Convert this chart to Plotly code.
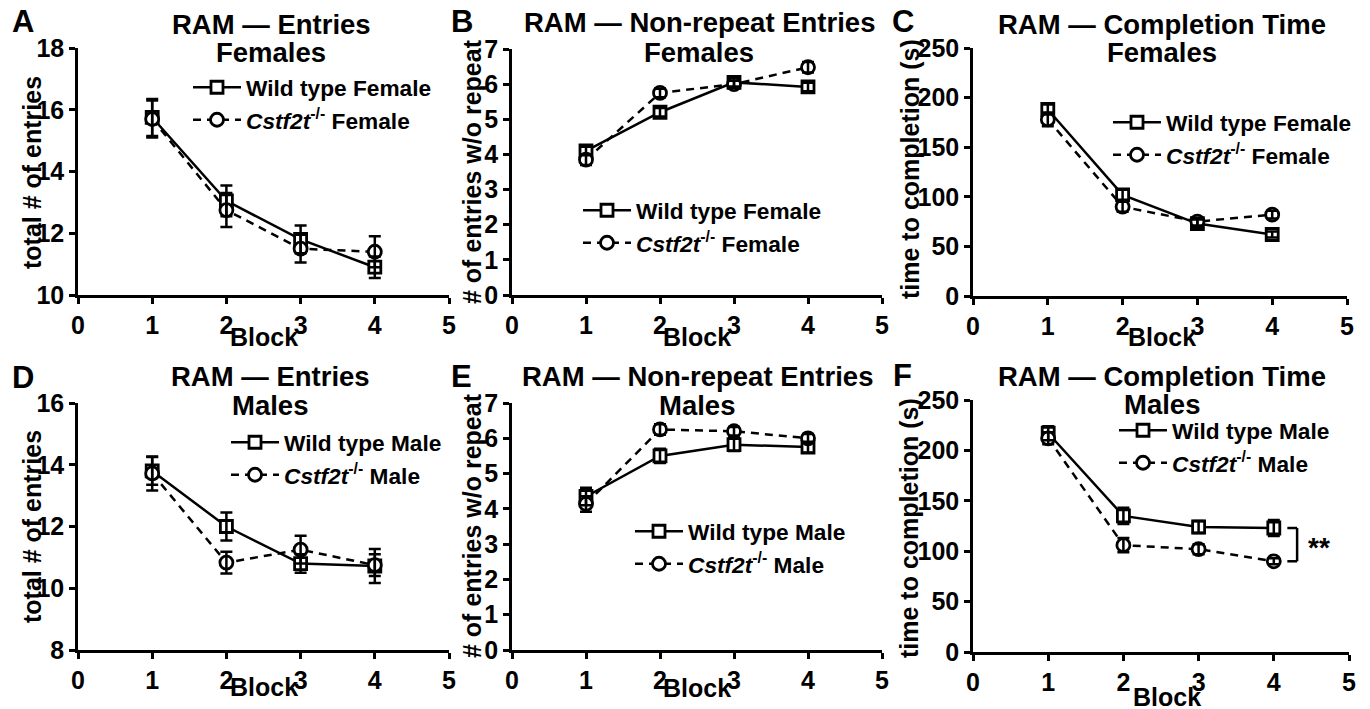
import plotly.graph_objects as go

W, H = 1370, 709

blocks = [1, 2, 3, 4]

# Panel A - Females, total entries
wt_f_entries = [15.75, 13.05, 11.8, 10.9]
wt_f_entries_sem = [0.6, 0.5, 0.45, 0.35]
ko_f_entries = [15.7, 12.75, 11.5, 11.4]
ko_f_entries_sem = [0.6, 0.55, 0.45, 0.5]

# Panel B - Females, non-repeat entries
wt_f_nonrep = [4.1, 5.2, 6.05, 5.92]
wt_f_nonrep_sem = [0.12, 0.12, 0.12, 0.12]
ko_f_nonrep = [3.85, 5.75, 6.0, 6.48]
ko_f_nonrep_sem = [0.15, 0.12, 0.1, 0.15]

# Panel C - Females, completion time
wt_f_time = [188, 102, 73, 62]
wt_f_time_sem = [5, 5, 4, 3]
ko_f_time = [178, 90, 75, 82]
ko_f_time_sem = [7, 5, 4, 4]

# Panel D - Males, total entries
wt_m_entries = [13.8, 12.0, 10.8, 10.72]
wt_m_entries_sem = [0.45, 0.45, 0.3, 0.55]
ko_m_entries = [13.72, 10.83, 11.25, 10.75]
ko_m_entries_sem = [0.55, 0.35, 0.45, 0.35]

# Panel E - Males, non-repeat entries
wt_m_nonrep = [4.35, 5.5, 5.82, 5.75]
wt_m_nonrep_sem = [0.25, 0.2, 0.18, 0.15]
ko_m_nonrep = [4.14, 6.25, 6.2, 6.0]
ko_m_nonrep_sem = [0.22, 0.15, 0.12, 0.12]

# Panel F - Males, completion time
wt_m_time = [217, 135, 124, 123]
wt_m_time_sem = [7, 8, 6, 8]
ko_m_time = [212, 106, 102, 90]
ko_m_time_sem = [6, 7, 5, 3]

panel_letters = ["A", "B", "C", "D", "E", "F"]
title_line1 = ["RAM \u2014 Entries", "RAM \u2014 Non-repeat Entries", "RAM \u2014 Completion Time"] * 2
title_line2 = ["Females"] * 3 + ["Males"] * 3
y_titles = ["total # of entries", "# of entries w/o repeat", "time to completion (s)"] * 2
x_title = "Block"
wt_names = ["Wild type Female"] * 3 + ["Wild type Male"] * 3
ko_names = ["<i>Cstf2t</i><sup>-/-</sup> Female"] * 3 + ["<i>Cstf2t</i><sup>-/-</sup> Male"] * 3
y_ranges = [[10, 18], [0, 7], [0, 250], [8, 16], [0, 7], [0, 250]]
y_dticks = [2, 1, 50, 2, 1, 50]

wt_data = [(wt_f_entries, wt_f_entries_sem), (wt_f_nonrep, wt_f_nonrep_sem), (wt_f_time, wt_f_time_sem),
           (wt_m_entries, wt_m_entries_sem), (wt_m_nonrep, wt_m_nonrep_sem), (wt_m_time, wt_m_time_sem)]
ko_data = [(ko_f_entries, ko_f_entries_sem), (ko_f_nonrep, ko_f_nonrep_sem), (ko_f_time, ko_f_time_sem),
           (ko_m_entries, ko_m_entries_sem), (ko_m_nonrep, ko_m_nonrep_sem), (ko_m_time, ko_m_time_sem)]

FONT = "Liberation Sans, Arial, sans-serif"


def px_x(x):
    return x / W


def px_y(y):
    return 1 - y / H


# plot-area pixel boxes (left, right, top, bottom)
boxes = [(78, 449, 48, 295), (512, 882, 49, 295), (973, 1347, 48, 296),
         (78, 449, 403, 650), (512, 882, 403, 650), (973, 1349, 400, 652)]
legend_pos = [(188, 66), (578, 189), (1108, 101), (226, 421), (630, 510), (1114, 409)]
letter_pos = [(23, 22), (462, 22), (903, 22), (23, 378), (461, 377), (902, 376)]
title_x = [271, 699, 1162, 270, 697, 1162]
title_y1 = [25, 23, 25, 377, 377, 377]
title_y2 = [52, 52, 52, 405, 405, 404]
ytitle_pos = [(32, 173), (472, 172), (910, 169), (32, 527), (472, 526), (909, 528)]
xtitle_pos = [(264, 337), (697, 337), (1162, 337), (264, 687), (697, 688), (1167, 697)]

fig = go.Figure()
annotations = []
layout = dict()

for i in range(6):
    n = "" if i == 0 else str(i + 1)
    xa, ya = "x" + n, "y" + n
    leg = "legend" + n
    wt, wt_sem = wt_data[i]
    ko, ko_sem = ko_data[i]

    fig.add_trace(go.Scatter(
        x=blocks, y=wt, name=wt_names[i], mode="lines+markers", xaxis=xa, yaxis=ya, legend=leg,
        line=dict(color="black", width=2.5),
        marker=dict(symbol="square", size=12, color="white", line=dict(color="black", width=2.8)),
    ))
    fig.add_trace(go.Scatter(
        x=blocks, y=ko, name=ko_names[i], mode="lines+markers", xaxis=xa, yaxis=ya, legend=leg,
        line=dict(color="black", width=2.5, dash="8px,6px"),
        marker=dict(symbol="circle", size=13, color="white", line=dict(color="black", width=2.8)),
    ))
    for vals, sem in ((wt, wt_sem), (ko, ko_sem)):
        fig.add_trace(go.Scatter(
            x=blocks, y=vals, mode="markers", xaxis=xa, yaxis=ya, showlegend=False,
            marker=dict(size=4, opacity=0),
            error_y=dict(type="data", array=sem, visible=True, color="black", thickness=2.5, width=6),
            hoverinfo="skip",
        ))

    l, r, t, b = boxes[i]
    common = dict(
        showline=True, linecolor="black", linewidth=2.5, ticks="outside", ticklen=6, tickwidth=2.5,
        tickcolor="black", showgrid=False, zeroline=False, automargin=False,
        tickfont=dict(family=FONT, size=25, color="black", weight="bold"),
    )
    layout["xaxis" + n] = dict(domain=[px_x(l), px_x(r)], anchor=ya, range=[0, 5], dtick=1, tick0=0, **common)
    layout["yaxis" + n] = dict(domain=[px_y(b), px_y(t)], anchor=xa, range=y_ranges[i], dtick=y_dticks[i],
                               tick0=0, **common)
    lx, ly = legend_pos[i]
    layout[leg] = dict(
        x=px_x(lx), y=px_y(ly), xanchor="left", yanchor="top", bgcolor="rgba(0,0,0,0)",
        borderwidth=0, itemwidth=48, tracegroupgap=0,
        font=dict(family=FONT, size=22.7, color="black", weight="bold"),
    )

    ax, ay = letter_pos[i]
    annotations.append(dict(text=panel_letters[i], x=px_x(ax), y=px_y(ay), xref="paper", yref="paper",
                            showarrow=False, xanchor="center", yanchor="middle",
                            font=dict(family=FONT, size=31, color="black", weight="bold")))
    annotations.append(dict(text=title_line1[i], x=px_x(title_x[i]), y=px_y(title_y1[i]), xref="paper", yref="paper",
                            showarrow=False, xanchor="center", yanchor="middle",
                            font=dict(family=FONT, size=27.5, color="black", weight="bold")))
    annotations.append(dict(text=title_line2[i], x=px_x(title_x[i]), y=px_y(title_y2[i]), xref="paper", yref="paper",
                            showarrow=False, xanchor="center", yanchor="middle",
                            font=dict(family=FONT, size=27.5, color="black", weight="bold")))
    tx, ty = ytitle_pos[i]
    annotations.append(dict(text=y_titles[i], x=px_x(tx), y=px_y(ty), xref="paper", yref="paper",
                            showarrow=False, xanchor="center", yanchor="middle", textangle=-90,
                            font=dict(family=FONT, size=25, color="black", weight="bold")))
    bx, by = xtitle_pos[i]
    annotations.append(dict(text=x_title, x=px_x(bx), y=px_y(by), xref="paper", yref="paper",
                            showarrow=False, xanchor="center", yanchor="middle",
                            font=dict(family=FONT, size=25, color="black", weight="bold")))

# significance bracket in panel F
bx_left, bx_right = 4.18, 4.31
y_top, y_bot = wt_m_time[3], ko_m_time[3]
shapes = [
    dict(type="line", xref="x6", yref="y6", x0=bx_left, x1=bx_right, y0=y_top, y1=y_top,
         line=dict(color="black", width=2.5)),
    dict(type="line", xref="x6", yref="y6", x0=bx_right, x1=bx_right, y0=y_top, y1=y_bot,
         line=dict(color="black", width=2.5)),
    dict(type="line", xref="x6", yref="y6", x0=bx_left, x1=bx_right, y0=y_bot, y1=y_bot,
         line=dict(color="black", width=2.5)),
]
annotations.append(dict(text="**", x=4.6, y=(y_top + y_bot) / 2 - 3, xref="x6", yref="y6",
                        showarrow=False, xanchor="center", yanchor="middle",
                        font=dict(family=FONT, size=28, color="black", weight="bold")))

fig.update_layout(
    width=W, height=H, margin=dict(l=0, r=0, t=0, b=0, autoexpand=False),
    paper_bgcolor="white", plot_bgcolor="white",
    font=dict(family=FONT, color="black"),
    annotations=annotations, shapes=shapes,
    **layout,
)

fig.write_html("out.html", config={"displayModeBar": False},
               post_script="document.body.style.margin='0px';document.body.style.overflow='hidden';")
